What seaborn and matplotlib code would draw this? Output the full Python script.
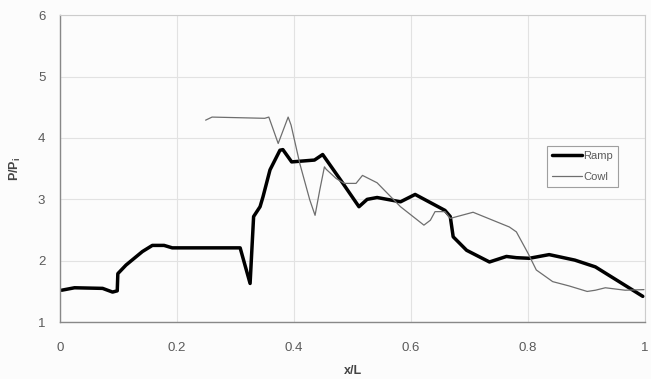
import matplotlib
matplotlib.use("Agg")
import matplotlib.pyplot as plt
import seaborn as sns
import pandas as pd

ramp_x = [0.003, 0.025, 0.073, 0.090, 0.098, 0.099, 0.113, 0.141, 0.158, 0.178, 0.192,
          0.302, 0.308, 0.325, 0.331, 0.342, 0.347, 0.359, 0.376, 0.381, 0.396, 0.435,
          0.449, 0.480, 0.511, 0.525, 0.542, 0.582, 0.607, 0.658, 0.667, 0.672, 0.695,
          0.734, 0.763, 0.780, 0.802, 0.836, 0.880, 0.915, 0.996]
ramp_y = [1.52, 1.56, 1.55, 1.49, 1.51, 1.79, 1.93, 2.15, 2.25, 2.25, 2.21,
          2.21, 2.21, 1.63, 2.72, 2.88, 3.04, 3.48, 3.80, 3.81, 3.61, 3.64,
          3.73, 3.31, 2.88, 3.00, 3.03, 2.96, 3.08, 2.82, 2.72, 2.39, 2.17,
          1.98, 2.07, 2.05, 2.04, 2.10, 2.01, 1.90, 1.42]

cowl_x = [0.249, 0.260, 0.350, 0.357, 0.373, 0.390, 0.395, 0.410, 0.427, 0.436, 0.444,
          0.452, 0.455, 0.472, 0.486, 0.506, 0.517, 0.542, 0.582, 0.622, 0.633,
          0.641, 0.658, 0.667, 0.706, 0.768, 0.780, 0.800, 0.814, 0.842, 0.870,
          0.901, 0.915, 0.932, 0.966, 0.998]
cowl_y = [4.29, 4.34, 4.32, 4.34, 3.91, 4.34, 4.21, 3.58, 2.99, 2.74, 3.15,
          3.53, 3.49, 3.34, 3.26, 3.26, 3.39, 3.27, 2.88, 2.58, 2.66,
          2.80, 2.80, 2.69, 2.79, 2.55, 2.47, 2.12, 1.85, 1.66, 1.59,
          1.50, 1.52, 1.56, 1.52, 1.53]

series_names = ["Ramp", "Cowl"]
x_ticks = [0, 0.2, 0.4, 0.6, 0.8, 1]
x_tick_labels = ["0", "0.2", "0.4", "0.6", "0.8", "1"]
y_ticks = [1, 2, 3, 4, 5, 6]

df_r = pd.DataFrame({"x": ramp_x, "y": ramp_y})
df_c = pd.DataFrame({"x": cowl_x, "y": cowl_y})

sns.set_theme(style="whitegrid")
plt.rcParams["font.family"] = ["Liberation Sans", "DejaVu Sans"]

fig = plt.figure(figsize=(6.51, 3.79), dpi=100, facecolor="#fcfcfc")
ax = fig.add_axes([0.092, 0.15, 0.899, 0.81])
ax.set_facecolor("#fcfcfc")

txt = "#5a5a5a"
sns.lineplot(data=df_r, x="x", y="y", sort=False, estimator=None, ax=ax,
             color="black", linewidth=2.5, label=series_names[0],
             solid_joinstyle="round", solid_capstyle="round")
sns.lineplot(data=df_c, x="x", y="y", sort=False, estimator=None, ax=ax,
             color="#6e6e6e", linewidth=0.9, label=series_names[1],
             solid_joinstyle="round")

ax.set_xlim(0, 1)
ax.set_ylim(1, 6)
ax.set_xticks(x_ticks)
ax.set_xticklabels(x_tick_labels)
ax.set_yticks(y_ticks)
ax.tick_params(axis="x", labelsize=9.5, colors=txt, length=0, pad=14)
ax.tick_params(axis="y", labelsize=9.5, colors=txt, length=2.5, width=0.8,
               color="#888888", pad=8)
ax.grid(True, color="#e2e2e2", linewidth=0.8)
for s in ax.spines.values():
    s.set_color("#cccccc")
    s.set_linewidth(0.8)
ax.spines["left"].set_color("#888888")
ax.spines["bottom"].set_color("#888888")
ax.spines["left"].set_linewidth(1.0)
ax.spines["bottom"].set_linewidth(1.0)

ax.set_xlabel("x/L", fontsize=9, color="#444444", fontweight="bold", labelpad=8)
ax.set_ylabel("P/P$_\\mathregular{i}$", fontsize=9, color="#444444",
              fontweight="bold", labelpad=11)

leg = ax.legend(loc="upper left", bbox_to_anchor=(0.832, 0.573), fontsize=8,
                frameon=True, fancybox=False, borderpad=0.45, handlelength=2.7,
                handletextpad=0.1, labelspacing=1.0, borderaxespad=0)
leg.get_frame().set_edgecolor("#888888")
leg.get_frame().set_linewidth(0.8)
leg.get_frame().set_facecolor("#fcfcfc")
for t in leg.get_texts():
    t.set_color(txt)

fig.savefig("out.png", dpi=100, facecolor=fig.get_facecolor())
